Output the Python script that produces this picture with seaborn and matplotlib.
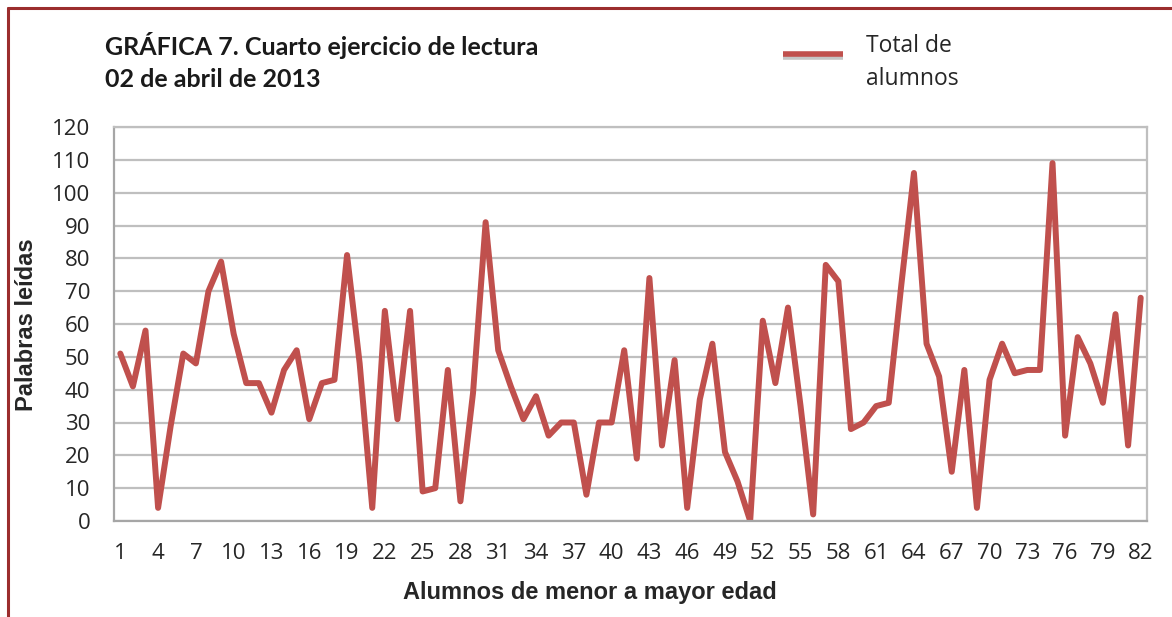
import matplotlib
matplotlib.use("Agg")
import matplotlib.pyplot as plt
import matplotlib.patheffects as pe
from matplotlib.lines import Line2D
import seaborn as sns
import pandas as pd
import numpy as np

# datos
alumnos = list(range(1, 83))
palabras = [51, 41, 58, 4, 29, 51, 48, 70, 79, 57,
            42, 42, 33, 46, 52, 31, 42, 43, 81, 48,
            4, 64, 31, 64, 9, 10, 46, 6, 39, 91,
            52, 41, 31, 38, 26, 30, 30, 8, 30, 30,
            52, 19, 74, 23, 49, 4, 37, 54, 21, 12,
            0, 61, 42, 65, 35, 2, 78, 73, 28, 30,
            35, 36, 72, 106, 54, 44, 15, 46, 4, 43,
            54, 45, 46, 46, 109, 26, 56, 48, 36, 63,
            23, 68]
etiquetas_x = list(range(1, 83, 3))
etiquetas_y = list(range(0, 121, 10))

titulo_1 = "GRÁFICA 7. Cuarto ejercicio de lectura"
titulo_2 = "02 de abril de 2013"
serie = "Total de\nalumnos"

df = pd.DataFrame({"alumno": alumnos, "palabras": palabras})

sns.set_style("white")
plt.rcParams["font.family"] = ["Open Sans", "DejaVu Sans"]

rojo = "#C0504D"
gris = "#BFBFBF"
texto = "#262626"
arial = ["Liberation Sans", "DejaVu Sans"]

W, H = 1172, 617
fig = plt.figure(figsize=(W / 100, H / 100), dpi=100)
ax = fig.add_axes([114 / W, 1 - 521 / H, 1033 / W, 394 / H])

sns.lineplot(data=df, x="alumno", y="palabras", ax=ax, color=rojo,
             linewidth=4.3, solid_joinstyle="round", legend=False)

ax.set_xlim(0.5, 82.5)
ax.set_ylim(0, 120)
ax.set_yticks(etiquetas_y)
ax.yaxis.grid(True, color=gris, linewidth=1.6)
ax.set_axisbelow(True)

# marcas entre categorías, etiquetas en el centro
ax.set_xticks(np.arange(0.5, 83, 1))
ax.set_xticklabels([])
ax.set_xticks(etiquetas_x, minor=True)
ax.set_xticklabels([str(v) for v in etiquetas_x], minor=True)
ax.tick_params(axis="x", which="major", length=5, width=1.2, color="#A6A6A6", direction="out")
ax.tick_params(axis="x", which="minor", length=0, pad=16, labelsize=16, labelcolor=texto)
ax.tick_params(axis="y", length=5, width=1.2, color="#A6A6A6", direction="out",
               pad=12, labelsize=16, labelcolor=texto)

for s in ax.spines.values():
    s.set_color(gris)
    s.set_linewidth(1.6)
ax.spines["left"].set_color("#A6A6A6")
ax.spines["bottom"].set_color("#A6A6A6")

ax.set_xlabel("")
ax.set_ylabel("")
fig.text(590 / W, 1 - 592 / H, "Alumnos de menor a mayor edad", family=arial,
         fontweight="bold", fontsize=17, ha="center", va="center", color=texto)
fig.text(27 / W, 1 - 325 / H, "Palabras leídas", family=arial, rotation=90,
         fontweight="bold", fontsize=17, ha="center", va="center", color=texto)

# título
fig.text(105 / W, 1 - 55 / H, titulo_1, ha="left", va="baseline", fontsize=18,
         fontweight="bold", family=["Lato", "DejaVu Sans"], color="#1a1a1a")
fig.text(105 / W, 1 - 87 / H, titulo_2, ha="left", va="baseline", fontsize=18,
         fontweight="bold", family=["Lato", "DejaVu Sans"], color="#1a1a1a")

# leyenda
muestra = Line2D([783 / W, 843 / W], [1 - 54 / H, 1 - 54 / H], color=rojo, linewidth=4.0,
                 solid_capstyle="butt",
                 path_effects=[pe.SimpleLineShadow(offset=(0, -2.5), shadow_color="#7f7f7f", alpha=0.45),
                               pe.Normal()])
fig.add_artist(muestra)
fig.text(866 / W, 1 - 52 / H, "Total de", ha="left", va="baseline", fontsize=16.5, color=texto)
fig.text(866 / W, 1 - 85 / H, "alumnos", ha="left", va="baseline", fontsize=16.5, color=texto)

# marco rojo oscuro
fig.add_artist(Line2D([8 / W, 8 / W], [0, 1 - 8 / H], color="#9B2D2D", linewidth=2.2))
fig.add_artist(Line2D([8 / W, 1], [1 - 8 / H, 1 - 8 / H], color="#9B2D2D", linewidth=2.2))

fig.savefig("out.png", dpi=100)
